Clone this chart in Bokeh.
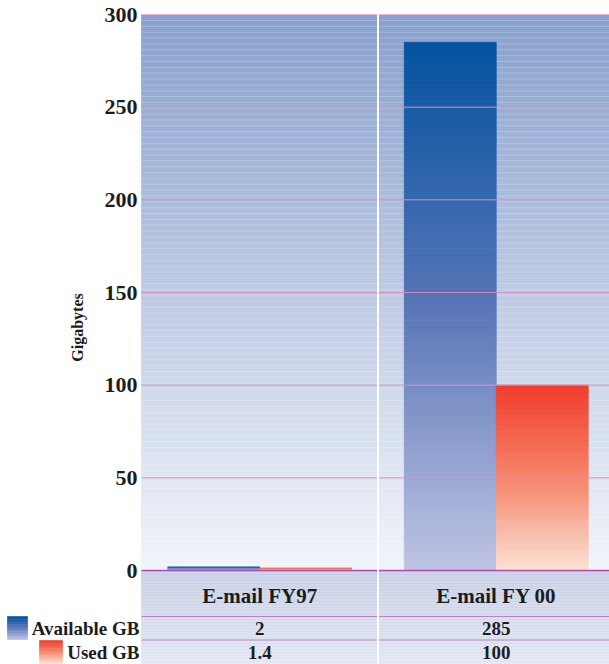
import numpy as np
from bokeh.plotting import figure
from bokeh.models import ColumnDataSource, Range1d
from bokeh.core.properties import value
from bokeh.embed import file_html
from bokeh.resources import INLINE

# ---------------- data ----------------
categories = ["E-mail FY97", "E-mail FY 00"]
series_names = ["Available GB", "Used GB"]
available_gb = [2, 285]
used_gb = [1.4, 100]
available_labels = ["2", "285"]
used_labels = ["1.4", "100"]
y_ticks = [0, 50, 100, 150, 200, 250, 300]
y_title = "Gigabytes"

# ---------------- layout (pixels) ----------------
W, H = 609, 664
FRAME_L = 141
TOP = 14
ZERO = 570
PX_CAT = 236.5
PX_GB = (ZERO - TOP) / 300.0

x_start = -FRAME_L / PX_CAT
x_end = (W - FRAME_L) / PX_CAT
y_end = 300 + TOP / PX_GB
y_start = -(H - ZERO) / PX_GB


def xd(px):
    return (px - FRAME_L) / PX_CAT


def yd(py):
    return (ZERO - py) / PX_GB


def hexc(rgb):
    return "#%02x%02x%02x" % tuple(int(round(c)) for c in rgb)


def grad(stops, t):
    t = min(max(t, 0.0), 1.0)
    for (t0, c0), (t1, c1) in zip(stops[:-1], stops[1:]):
        if t <= t1:
            f = 0 if t1 == t0 else (t - t0) / (t1 - t0)
            return hexc([a + (b - a) * f for a, b in zip(c0, c1)])
    return hexc(stops[-1][1])


BG_STOPS = [(0, (134, 158, 204)), (1, (241, 244, 250))]
TABLE_STOPS = [(0, (194, 204, 228)), (1, (224, 229, 242))]
BLUE_STOPS = [(0, (0, 82, 160)), (0.5, (86, 116, 184)), (1, (190, 196, 228))]
RED_STOPS = [(0, (238, 58, 42)), (0.5, (245, 132, 106)), (1, (253, 224, 210))]

TEXT = "#1c1c1c"
FONT = value("Liberation Serif")

p = figure(width=W, height=H, x_range=Range1d(x_start, x_end),
           y_range=Range1d(y_start, y_end), min_border=0,
           toolbar_location=None, output_backend="svg",
           x_axis_location=None, y_axis_location=None,
           outline_line_color=None, background_fill_color="white",
           border_fill_color="white")
p.grid.visible = False


def gradient_quads(left, right, bottom, top, stops, step_px=2.0):
    """Vertical gradient (dark at top) split into thin slices."""
    h_px = (top - bottom) * PX_GB
    n = max(2, int(h_px / step_px))
    edges = np.linspace(top, bottom, n + 1)
    cols = [grad(stops, (i + 0.5) / n) for i in range(n)]
    return dict(left=[left] * n, right=[right] * n,
                top=list(edges[:-1]), bottom=list(edges[1:]), color=cols)


def draw_quads(d):
    src = ColumnDataSource(d)
    p.quad(left="left", right="right", top="top", bottom="bottom", source=src,
           fill_color="color", line_color="color", line_width=0.6)


# plot background
draw_quads(gradient_quads(0, x_end, 0, 300, BG_STOPS))
ys = np.arange(yd(20), 0.5, -5.85 / PX_GB)
p.segment(x0=0, x1=x_end, y0=ys, y1=ys, line_color="white", line_alpha=0.22, line_width=1)

# table background
draw_quads(gradient_quads(0, x_end, y_start, 0, TABLE_STOPS))
ts = np.arange(yd(572.5), y_start, -3.0 / PX_GB)
p.segment(x0=0, x1=x_end, y0=ts, y1=ts, line_color="white", line_alpha=0.35, line_width=1)

# bars
centers = [0.5 + i for i in range(len(categories))]
bw = 92 / PX_CAT
for c, va, vu in zip(centers, available_gb, used_gb):
    draw_quads(gradient_quads(c - bw, c, 0, va, BLUE_STOPS, 2.0))
    draw_quads(gradient_quads(c, c + bw, 0, vu, RED_STOPS, 2.0))

# grid lines
mid_ticks = [t for t in y_ticks if 0 < t < 300]
p.segment(x0=0, x1=x_end, y0=mid_ticks, y1=mid_ticks, line_color="#d98cc8", line_width=1)
p.segment(x0=[0], x1=[x_end], y0=[300], y1=[300], line_color="#ecbce0", line_width=1.2)
p.segment(x0=[0], x1=[x_end], y0=[0], y1=[0], line_color="#b04cb4", line_width=1.5)
row_lines = [yd(616), yd(639.5)]
p.segment(x0=0, x1=x_end, y0=row_lines, y1=row_lines, line_color="#bc80c8", line_width=1.2)

# category separator
p.segment(x0=[1.0], x1=[1.0], y0=[y_start], y1=[300], line_color="white", line_width=2)

# y tick labels
p.text(x=[xd(137)] * len(y_ticks), y=y_ticks, text=[str(t) for t in y_ticks],
       text_align="right", text_baseline="middle", text_font=FONT,
       text_font_style="bold", text_font_size="22px", text_color=TEXT)

# axis title
p.text(x=[xd(77)], y=[yd(327)], text=[y_title], angle=np.pi / 2,
       text_align="center", text_baseline="middle", text_font=FONT,
       text_font_style="bold", text_font_size="16px", text_color=TEXT)

# category labels
p.text(x=centers, y=[yd(595)] * len(categories), text=categories,
       text_align="center", text_baseline="middle", text_font=FONT,
       text_font_style="bold", text_font_size="21px", text_color=TEXT)

# table values
p.text(x=centers, y=[yd(628)] * len(categories), text=available_labels,
       text_align="center", text_baseline="middle", text_font=FONT,
       text_font_style="bold", text_font_size="19px", text_color=TEXT)
p.text(x=centers, y=[yd(652)] * len(categories), text=used_labels,
       text_align="center", text_baseline="middle", text_font=FONT,
       text_font_style="bold", text_font_size="19px", text_color=TEXT)

# legend swatches + labels
draw_quads(gradient_quads(xd(7), xd(27), yd(639), yd(616), BLUE_STOPS, 1.5))
draw_quads(gradient_quads(xd(39), xd(62), yd(663), yd(640), RED_STOPS, 1.5))
p.text(x=[xd(139)] * 2, y=[yd(628), yd(652)], text=series_names,
       text_align="right", text_baseline="middle", text_font=FONT,
       text_font_style="bold", text_font_size="19px", text_color=TEXT)

open("out.html", "w").write(file_html(p, INLINE))
